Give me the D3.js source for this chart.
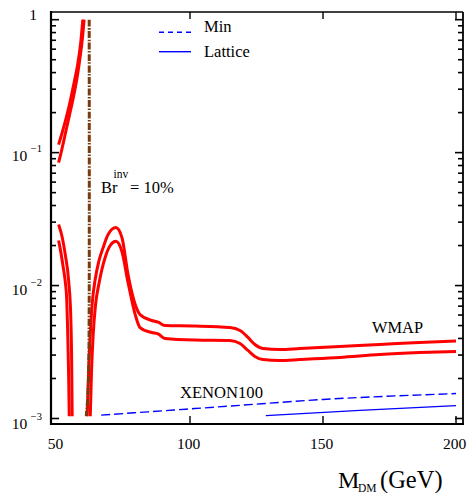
<!DOCTYPE html>
<html>
<head>
<meta charset="utf-8">
<script src="https://cdn.jsdelivr.net/npm/d3@7"></script>
<style>
  html, body { margin: 0; padding: 0; background: #fff; }
  svg { display: block; }
  text { font-family: "Liberation Serif", "Times New Roman", serif; fill: #000; }
</style>
</head>
<body>
<svg id="chart" width="468" height="493"></svg>
<script>
// ---------------- data ----------------
const xTicks = [50, 100, 150, 200];
const yMajorTicks = [1, 0.1, 0.01, 0.001];
const yTickBase = ["1", "10", "10", "10"];
const yTickExp = ["", "\u22121", "\u22122", "\u22123"];

// WMAP band, low-mass branch going up (two edges)
const wmapLowUpA_M = [50.6, 52.0, 53.5, 55.0, 56.5, 57.7, 58.9, 59.7];
const wmapLowUpA_v = [0.1148, 0.1429, 0.1841, 0.2455, 0.3428, 0.4519, 0.6683, 1.0];
const wmapLowUpB_M = [50.6, 51.8, 53.1, 54.6, 56.2, 57.6, 58.8, 59.6, 60.2];
const wmapLowUpB_v = [0.0841, 0.1054, 0.1380, 0.1884, 0.2630, 0.3715, 0.5433, 0.7413, 1.0];

// WMAP band, low-mass branch going down (two edges)
const wmapLowDownA_M = [50.6, 51.97, 53.1, 54.4, 55.15, 55.5, 55.7];
const wmapLowDownA_v = [0.0288, 0.0230, 0.0171, 0.01072, 0.00605, 0.00278, 0.00104];
const wmapLowDownB_M = [50.6, 51.4, 52.35, 53.1, 53.65, 54.0, 54.4, 54.6];
const wmapLowDownB_v = [0.0218, 0.0180, 0.01365, 0.01072, 0.00785, 0.00467, 0.00197, 0.00104];

// WMAP band, high-mass branch (upper and lower edges)
const wmapHighUpper_M = [61.35, 61.9, 62.5, 63.2, 64.35, 65.6, 67.35, 69.2, 72.1, 74.4, 76.7, 79.4, 81.2, 85.6, 88.0, 90.6, 101.9, 115.0, 118.8, 121.8, 124.4, 127.4, 133.8, 141.3, 156.3, 171.3, 186.3, 200];
const wmapHighUpper_v = [0.00104, 0.002335, 0.00428, 0.0072, 0.0111, 0.0149, 0.0193, 0.0242, 0.0273, 0.0230, 0.0121, 0.0072, 0.00605, 0.00546, 0.0053, 0.0050, 0.00496, 0.00483, 0.00459, 0.00407, 0.0036, 0.00336, 0.0033, 0.00336, 0.00348, 0.0036, 0.00373, 0.00383];
const wmapHighLower_M = [62.5, 63.0, 63.6, 64.5, 65.85, 68.1, 70.0, 72.1, 74.4, 76.7, 79.4, 81.2, 85.6, 88.0, 90.6, 101.9, 115.0, 118.8, 121.8, 124.4, 127.4, 133.8, 141.3, 156.3, 171.3, 186.3, 200];
const wmapHighLower_v = [0.00104, 0.002335, 0.00428, 0.0072, 0.01054, 0.01625, 0.0200, 0.0215, 0.0180, 0.01054, 0.00605, 0.00483, 0.00443, 0.00433, 0.0040, 0.00389, 0.00386, 0.00366, 0.00325, 0.00293, 0.00278, 0.00273, 0.00278, 0.00288, 0.00303, 0.00313, 0.00319];

// Br^inv = 10% line
const brInv_M = [62.1, 62.1, 61.9, 61.5, 61.0];
const brInv_v = [1.0, 0.00785, 0.002335, 0.00139, 0.00104];

// XENON100 bounds
const xenonMin_M = [66.6, 115, 150, 200];
const xenonMin_v = [0.00106, 0.00124, 0.00139, 0.00154];
const xenonLattice_M = [128.5, 163.8, 200];
const xenonLattice_v = [0.00105, 0.00115, 0.00125];

const legendLabels = ["Min", "Lattice"];

// ---------------- drawing ----------------
const svg = d3.select("#chart");
const L = 51, R = 463, T = 12, B = 424;

const x = d3.scaleLinear().domain([47.74, 202.63]).range([L, R]);
const y = d3.scaleLog().domain([9.09e-4, 1.1425]).range([B, T]);

const zip = (a, b) => a.map((d, i) => [d, b[i]]);
const line = d3.line().x(d => x(d[0])).y(d => y(d[1])).curve(d3.curveMonotoneX);
const lineFree = d3.line().x(d => x(d[0])).y(d => y(d[1])).curve(d3.curveCatmullRom.alpha(0.5));

svg.append("defs").append("clipPath").attr("id", "clip")
  .append("rect").attr("x", L).attr("y", T).attr("width", R - L).attr("height", B - T);

const plot = svg.append("g").attr("clip-path", "url(#clip)");

const redSeries = [
  zip(wmapLowUpA_M, wmapLowUpA_v),
  zip(wmapLowUpB_M, wmapLowUpB_v),
  zip(wmapLowDownA_M, wmapLowDownA_v),
  zip(wmapLowDownB_M, wmapLowDownB_v),
  zip(wmapHighUpper_M, wmapHighUpper_v),
  zip(wmapHighLower_M, wmapHighLower_v)
];
plot.selectAll("path.wmap").data(redSeries).enter().append("path")
  .attr("class", "wmap")
  .attr("d", line)
  .attr("fill", "none")
  .attr("stroke", "#ff0000")
  .attr("stroke-width", 3)
  .attr("stroke-linecap", "butt")
  .attr("stroke-linejoin", "round");

plot.append("path")
  .attr("d", lineFree(zip(brInv_M, brInv_v)))
  .attr("fill", "none")
  .attr("stroke", "#7a3b0e")
  .attr("stroke-width", 3)
  .attr("stroke-dasharray", "7,1.5,1.5,1.5");

plot.append("path")
  .attr("d", line(zip(xenonMin_M, xenonMin_v)))
  .attr("fill", "none")
  .attr("stroke", "#0000ff")
  .attr("stroke-width", 1.4)
  .attr("stroke-dasharray", "9,4");

plot.append("path")
  .attr("d", line(zip(xenonLattice_M, xenonLattice_v)))
  .attr("fill", "none")
  .attr("stroke", "#0000ff")
  .attr("stroke-width", 1.4);

// frame
const frame = svg.append("g").attr("stroke", "#000").attr("fill", "none");
frame.append("line").attr("x1", L).attr("x2", L).attr("y1", T - 1).attr("y2", B + 1).attr("stroke-width", 2.2);
frame.append("line").attr("x1", L - 1).attr("x2", R + 1).attr("y1", B).attr("y2", B).attr("stroke-width", 2.2);
frame.append("line").attr("x1", L).attr("x2", R).attr("y1", T).attr("y2", T).attr("stroke-width", 1.4);
frame.append("line").attr("x1", R).attr("x2", R).attr("y1", T).attr("y2", B).attr("stroke-width", 1.8);

// x ticks (inside, bottom and top)
xTicks.filter(t => x(t) > L + 8).forEach(t => {
  frame.append("line").attr("x1", x(t)).attr("x2", x(t)).attr("y1", B).attr("y2", B - 8).attr("stroke-width", 1.4);
  frame.append("line").attr("x1", x(t)).attr("x2", x(t)).attr("y1", T).attr("y2", T + 7).attr("stroke-width", 1.4);
});

// y ticks (log, major + minor, left and right)
y.ticks().forEach(t => {
  const lgv = Math.log10(t);
  const major = Math.abs(lgv - Math.round(lgv)) < 1e-6;
  const len = major ? 8 : 5;
  frame.append("line").attr("x1", L).attr("x2", L + len).attr("y1", y(t)).attr("y2", y(t)).attr("stroke-width", 1.6);
  frame.append("line").attr("x1", R).attr("x2", R - len).attr("y1", y(t)).attr("y2", y(t)).attr("stroke-width", 1.6);
});

// x tick labels
svg.append("g").selectAll("text").data(xTicks).enter().append("text")
  .attr("x", d => Math.max(x(d) - 1.5, L + 2))
  .attr("y", 448.5)
  .attr("text-anchor", "middle")
  .attr("font-size", 15.5)
  .text(d => d);

// y tick labels
const yLabOffset = [0.5, 8, 9, 11];
yMajorTicks.forEach((t, i) => {
  const tx = svg.append("text")
    .attr("x", yTickExp[i] ? 42 : 37)
    .attr("y", y(t) + yLabOffset[i])
    .attr("text-anchor", "end")
    .attr("font-size", 15.5);
  tx.append("tspan").text(yTickBase[i]);
  if (yTickExp[i]) {
    tx.append("tspan").attr("dx", 3.5).attr("dy", -9).attr("font-size", 10.5).text(yTickExp[i]);
  }
});

// legend
const lg = svg.append("g");
lg.append("line").attr("x1", 159).attr("x2", 191).attr("y1", 32.3).attr("y2", 32.3)
  .attr("stroke", "#0000ff").attr("stroke-width", 1.4).attr("stroke-dasharray", "5,4");
lg.append("line").attr("x1", 159).attr("x2", 191).attr("y1", 51.7).attr("y2", 51.7)
  .attr("stroke", "#0000ff").attr("stroke-width", 1.4);
lg.append("text").attr("x", 204).attr("y", 31.7).attr("font-size", 16.5).text(legendLabels[0]);
lg.append("text").attr("x", 204).attr("y", 57.3).attr("font-size", 16.5).text(legendLabels[1]);

// annotations
svg.append("text").attr("x", 101).attr("y", 193).attr("font-size", 16.5).text("Br");
svg.append("text").attr("x", 113.5).attr("y", 178).attr("font-size", 11.5).text("inv");
svg.append("text").attr("x", 130).attr("y", 193).attr("font-size", 16.5).text("= 10%");
svg.append("text").attr("x", 372).attr("y", 333.3).attr("font-size", 16.4).text("WMAP");
svg.append("text").attr("x", 180).attr("y", 398).attr("font-size", 16.6).text("XENON100");

// axis title
svg.append("text").attr("x", 338).attr("y", 488).attr("font-size", 24).text("M");
svg.append("text").attr("x", 358).attr("y", 491.5).attr("font-size", 11.5).text("DM");
svg.append("text").attr("x", 380).attr("y", 488).attr("font-size", 24.5).text("(GeV)");
</script>
</body>
</html>
